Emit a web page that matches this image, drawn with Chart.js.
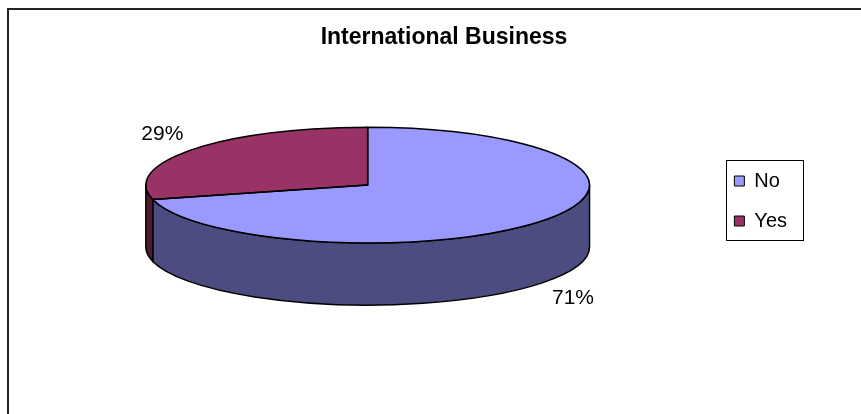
<!DOCTYPE html>
<html>
<head>
<meta charset="utf-8">
<title>International Business</title>
<script src="https://cdn.jsdelivr.net/npm/chart.js@4.4.1/dist/chart.umd.min.js"></script>
<style>
	html, body { margin: 0; padding: 0; background: #fff; overflow: hidden; }
	body { width: 861px; height: 414px; position: relative; }
	#frame { position: absolute; left: 7px; top: 8px; width: 870px; height: 420px; border-left: 2px solid #222; border-top: 2px solid #222; }
	#frame canvas { display: block; }
</style>
</head>
<body>
<div id="frame"><canvas id="pie-chart" width="870" height="420"></canvas></div>
<script>
var categories = ['No', 'Yes'];
var responses = [71, 29];
var topColors = ['#9999ff', '#993366'];
var sideColors = ['#4c4c80', '#4d1a33'];

// parts of a slice that lie on the front half (canvas angles 0..PI)
function frontParts(a0, a1) {
	var parts = [];
	for (var k = -1; k <= 1; k++) {
		var s = Math.max(a0, 2 * Math.PI * k);
		var e = Math.min(a1, Math.PI + 2 * Math.PI * k);
		if (e > s) parts.push([s, e]);
	}
	return parts;
}

var pie3d = {
	id: 'pie3d',
	beforeDatasetsDraw: function (chart, args, opts) {
		var arcs = chart.getDatasetMeta(0).data;
		var ctx = chart.ctx;
		var r = arcs[0].outerRadius;
		var g = {
			cx: arcs[0].x + opts.shiftX,
			cy: arcs[0].y + opts.shiftY,
			rx: r * opts.stretch
		};
		g.ry = g.rx * opts.tilt;
		g.depth = opts.depth;
		chart.$pie3d = g;

		// side walls first
		ctx.save();
		ctx.lineWidth = opts.lineWidth;
		ctx.strokeStyle = opts.lineColor;
		ctx.lineJoin = 'round';
		arcs.forEach(function (arc, i) {
			frontParts(arc.startAngle, arc.endAngle).forEach(function (p) {
				ctx.beginPath();
				ctx.ellipse(g.cx, g.cy, g.rx, g.ry, 0, p[0], p[1]);
				ctx.ellipse(g.cx, g.cy + g.depth, g.rx, g.ry, 0, p[1], p[0], true);
				ctx.closePath();
				ctx.fillStyle = sideColors[i];
				ctx.fill();
				ctx.stroke();
			});
		});
		ctx.restore();

		// squash the round pie into the top ellipse
		ctx.save();
		ctx.translate(g.cx, g.cy);
		ctx.scale(g.rx / r, g.ry / r);
		ctx.translate(-arcs[0].x, -arcs[0].y);
	},
	afterDatasetsDraw: function (chart, args, opts) {
		var ctx = chart.ctx;
		ctx.restore();
		var g = chart.$pie3d;
		var arcs = chart.getDatasetMeta(0).data;
		var total = responses.reduce(function (a, b) { return a + b; }, 0);

		ctx.save();
		ctx.lineWidth = opts.lineWidth;
		ctx.strokeStyle = opts.lineColor;
		ctx.lineJoin = 'round';
		arcs.forEach(function (arc) {
			ctx.beginPath();
			ctx.moveTo(g.cx, g.cy);
			ctx.ellipse(g.cx, g.cy, g.rx, g.ry, 0, arc.startAngle, arc.endAngle);
			ctx.closePath();
			ctx.stroke();
		});

		// percentage labels outside the pie
		ctx.font = opts.labelFont;
		ctx.fillStyle = '#000';
		ctx.textAlign = 'center';
		ctx.textBaseline = 'middle';
		arcs.forEach(function (arc, i) {
			var mid = (arc.startAngle + arc.endAngle) / 2;
			var x = g.cx + (g.rx + opts.labelPadX) * Math.cos(mid);
			var y = g.cy + (g.ry + opts.labelPadY) * Math.sin(mid);
			if (Math.sin(mid) > 0) y += g.depth;
			ctx.fillText(Math.round(responses[i] / total * 100) + '%', x, y);
		});
		ctx.restore();
	},
	afterDraw: function (chart) {
		// box around the legend
		var boxes = chart.legend.legendHitBoxes;
		if (!boxes || !boxes.length) return;
		var l = Infinity, t = Infinity, rgt = -Infinity, b = -Infinity;
		boxes.forEach(function (h) {
			l = Math.min(l, h.left);
			t = Math.min(t, h.top);
			rgt = Math.max(rgt, h.left + h.width);
			b = Math.max(b, h.top + h.height);
		});
		var ctx = chart.ctx;
		ctx.save();
		ctx.strokeStyle = '#000';
		ctx.lineWidth = 1;
		ctx.strokeRect(Math.round(l - 8) + 0.5, Math.round(t - 11) + 0.5, Math.round(rgt - l + 24), Math.round(b - t + 20));
		ctx.restore();
	}
};

Chart.defaults.font.family = '"Liberation Sans", Arial, sans-serif';
Chart.defaults.color = '#000';

var ctx = document.getElementById('pie-chart');

var chart = new Chart(ctx, {
	type: 'pie',
	data: {
		labels: categories,
		datasets: [
			{
				data: responses,
				backgroundColor: topColors,
				borderWidth: 0,
				hoverOffset: 0,
				clip: false
			}
		]
	},
	options: {
		responsive: false,
		animation: false,
		events: [],
		devicePixelRatio: 1,
		layout: {
			padding: { left: 82, right: 82, top: 0, bottom: 38 }
		},
		plugins: {
			title: {
				display: true,
				text: 'International Business',
				color: '#000',
				font: { size: 23, weight: 'bold' },
				padding: { top: 14, bottom: 10 }
			},
			legend: {
				display: true,
				position: 'right',
				labels: {
					boxWidth: 10,
					boxHeight: 10,
					padding: 20,
					font: { size: 20 },
					generateLabels: function () {
						return categories.map(function (c, i) {
							return { text: c, fillStyle: topColors[i], strokeStyle: '#000', lineWidth: 1, hidden: false, index: i };
						});
					}
				}
			},
			tooltip: { enabled: false },
			pie3d: {
				shiftX: -35,
				shiftY: -41.7,
				stretch: 1.343,
				tilt: 0.261,
				depth: 62,
				lineWidth: 1.5,
				lineColor: '#000',
				labelPadX: 38,
				labelPadY: 25,
				labelFont: '21px "Liberation Sans", Arial, sans-serif'
			}
		}
	},
	plugins: [pie3d]
});
</script>
</body>
</html>
